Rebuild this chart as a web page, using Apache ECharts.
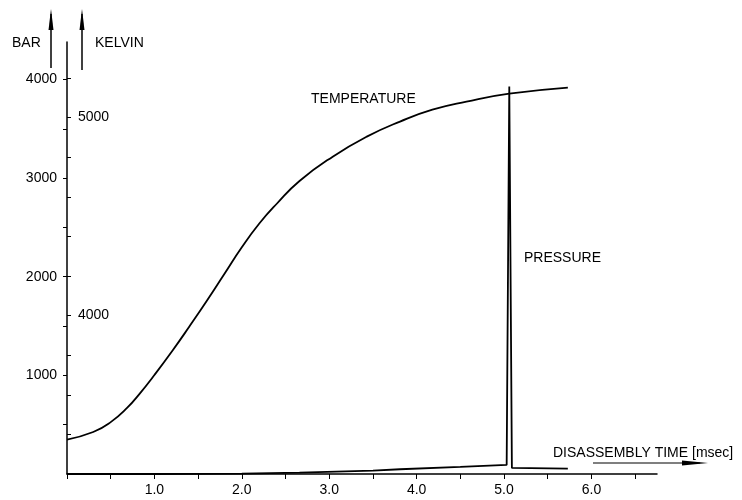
<!DOCTYPE html>
<html>
<head>
<meta charset="utf-8">
<script src="https://cdn.jsdelivr.net/npm/echarts@6/dist/echarts.min.js"></script>
<style>html,body{margin:0;padding:0;background:#fff}#c{width:742px;height:500px}</style>
</head>
<body>
<div id="c"></div>
<script>
// Temperature (Kelvin) vs disassembly time (msec)
const temperature = [
  [0, 3374], [0.3, 3412], [0.5, 3462], [0.69, 3535], [0.83, 3605], [1.0, 3700],
  [1.21, 3825], [1.4, 3945], [1.6, 4075], [1.8, 4210], [2.0, 4345], [2.2, 4465],
  [2.4, 4565], [2.66, 4680], [3.04, 4803], [3.43, 4904], [3.81, 4980], [4.18, 5040],
  [4.57, 5081], [5.06, 5121], [5.73, 5152]
];
// Pressure (bar) vs disassembly time (msec)
const pressure = [
  [0, 0], [1.0, 0], [2.0, 3], [2.66, 13], [3.5, 35], [3.81, 48], [4.5, 72],
  [5.03, 92], [5.06, 3930], [5.09, 62], [5.73, 55]
];
const xTicks = [0, 0.5, 1, 1.5, 2, 2.5, 3, 3.5, 4, 4.5, 5, 5.5, 6, 6.5];
const xLabels = [1, 2, 3, 4, 5, 6];
const barTicks = [500, 1000, 1500, 2000, 2500, 3000, 3500, 4000];
const barLabels = [1000, 2000, 3000, 4000];
const kelvinTicks = [3200, 3400, 3600, 3800, 4000, 4200, 4400, 4600, 4800, 5000, 5200];
const kelvinLabels = [4000, 5000];

const FONT = 'Liberation Sans';
const txt = {color: '#000', fontFamily: FONT, fontSize: 14};
const chart = echarts.init(document.getElementById('c'), null, {renderer: 'canvas'});
chart.setOption({
  backgroundColor: '#fff',
  animation: false,
  grid: {left: 67, right: 85, top: 42, bottom: 26},
  xAxis: {
    type: 'value', min: 0, max: 6.75,
    axisLine: {show: true, lineStyle: {color: '#000', width: 1.5}},
    axisTick: {show: true, customValues: xTicks, length: 5, lineStyle: {color: '#000', width: 1}},
    axisLabel: Object.assign({customValues: xLabels, margin: 9, formatter: v => v.toFixed(1)}, txt),
    splitLine: {show: false}
  },
  yAxis: [
    {
      type: 'value', min: 0, max: 4380, position: 'left',
      axisLine: {show: true, onZero: false, lineStyle: {color: '#000', width: 1.5}},
      axisTick: {show: true, customValues: barTicks, length: 4, lineStyle: {color: '#000', width: 1}},
      axisLabel: Object.assign({customValues: barLabels, margin: 10, formatter: v => String(v)}, txt),
      splitLine: {show: false}
    },
    {
      type: 'value', min: 3200, max: 5382, position: 'left',
      axisLine: {show: false},
      axisTick: {show: true, inside: true, customValues: kelvinTicks, length: 4, lineStyle: {color: '#000', width: 1}},
      axisLabel: Object.assign({customValues: kelvinLabels, inside: true, margin: 11, formatter: v => String(v)}, txt),
      splitLine: {show: false}
    }
  ],
  series: [
    {
      name: 'TEMPERATURE', type: 'line', yAxisIndex: 1, data: temperature,
      smooth: 0.5, showSymbol: false,
      lineStyle: {color: '#000', width: 1.8}
    },
    {
      name: 'PRESSURE', type: 'line', yAxisIndex: 0, data: pressure,
      smooth: false, showSymbol: false,
      lineStyle: {color: '#000', width: 1.8}
    }
  ],
  graphic: [
    {type: 'text', left: 12, top: 36, style: Object.assign({text: 'BAR'}, txt)},
    {type: 'text', left: 95, top: 36, style: Object.assign({text: 'KELVIN'}, txt)},
    {type: 'line', shape: {x1: 51, y1: 14, x2: 51, y2: 68}, style: {stroke: '#000', lineWidth: 1.5}},
    {type: 'polygon', shape: {points: [[51, 9], [48.5, 30], [53.5, 30]]}, style: {fill: '#000'}},
    {type: 'line', shape: {x1: 82, y1: 14, x2: 82, y2: 70}, style: {stroke: '#000', lineWidth: 1.5}},
    {type: 'polygon', shape: {points: [[82, 9], [79.5, 30], [84.5, 30]]}, style: {fill: '#000'}},
    {type: 'text', left: 311, top: 92, style: Object.assign({text: 'TEMPERATURE'}, txt)},
    {type: 'text', left: 524, top: 251, style: Object.assign({text: 'PRESSURE'}, txt)},
    {type: 'text', left: 553, top: 446, style: Object.assign({text: 'DISASSEMBLY TIME [msec]'}, txt)},
    {type: 'line', shape: {x1: 593, y1: 463, x2: 700, y2: 463}, style: {stroke: '#000', lineWidth: 1.2}},
    {type: 'polygon', shape: {points: [[708, 463], [682, 460.5], [682, 465.5]]}, style: {fill: '#000'}}
  ]
});
</script>
</body>
</html>
